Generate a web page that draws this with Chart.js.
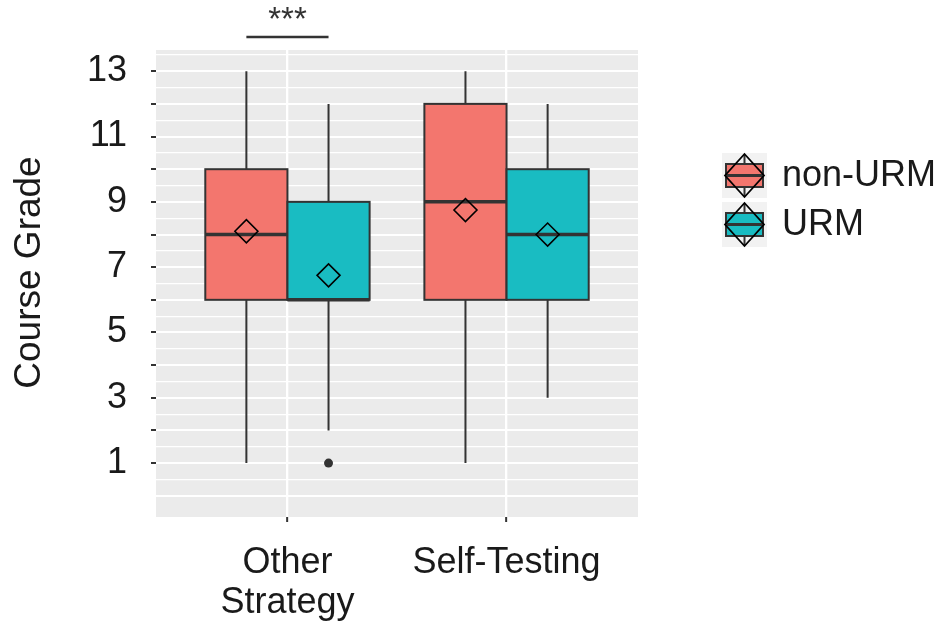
<!DOCTYPE html>
<html>
<head>
<meta charset="utf-8">
<script src="https://cdn.jsdelivr.net/npm/chart.js@4/dist/chart.umd.min.js"></script>
<style>
  html, body { margin: 0; padding: 0; background: #ffffff; }
  #wrap { width: 949px; height: 630px; }
</style>
</head>
<body>
<div id="wrap"><canvas id="c" width="949" height="630"></canvas></div>
<script>
// ---------- DATA ----------
const categories = [['Other', 'Strategy'], 'Self-Testing'];
const groups = ['non-URM', 'URM'];
const yTitle = 'Course Grade';

const nonUrmMin    = [1, 1];
const nonUrmQ1     = [6, 6];
const nonUrmMedian = [8, 9];
const nonUrmQ3     = [10, 12];
const nonUrmMax    = [13, 13];
const nonUrmMean   = [8.1, 8.75];
const nonUrmOutliers = [[], []];

const urmMin    = [2, 3];
const urmQ1     = [6, 6];
const urmMedian = [6, 8];
const urmQ3     = [9, 10];
const urmMax    = [12, 12];
const urmMean   = [6.75, 8.0];
const urmOutliers = [[1], []];

const yTickValues = [1, 2, 3, 4, 5, 6, 7, 8, 9, 10, 11, 12, 13];
const yTickLabels = ['1', '', '3', '', '5', '', '7', '', '9', '', '11', '', '13'];
const yGridValues = [0, 0.5, 1, 1.5, 2, 2.5, 3, 3.5, 4, 4.5, 5, 5.5, 6, 6.5, 7, 7.5, 8, 8.5, 9, 9.5, 10, 10.5, 11, 11.5, 12, 12.5, 13, 13.5];

const sigLabel = '***';
const sigCategory = 0;      // index of category with the bracket
const sigLineY = 14.05;     // value level of bracket line
const sigTextY = 14.7;

// ---------- STYLE ----------
const colors = ['#F3766E', '#19BCC2'];
const dodge = 0.375;       // width of each box in category units
const FONT = "'Liberation Sans', Arial, Helvetica, sans-serif";
const ink = '#333333';

const stats = [
  { min: nonUrmMin, q1: nonUrmQ1, med: nonUrmMedian, q3: nonUrmQ3, max: nonUrmMax, mean: nonUrmMean, out: nonUrmOutliers },
  { min: urmMin, q1: urmQ1, med: urmMedian, q3: urmQ3, max: urmMax, mean: urmMean, out: urmOutliers }
];
const xPos = (c, g) => c + 1 + (g - 0.5) * dodge;

const meanData = [];
const outData = [];
stats.forEach((s, g) => {
  categories.forEach((_, c) => {
    meanData.push({ x: xPos(c, g), y: s.mean[c] });
    s.out[c].forEach(v => outData.push({ x: xPos(c, g), y: v }));
  });
});

const panelBg = {
  id: 'panelBg',
  beforeDraw(chart) {
    const { ctx, chartArea: a } = chart;
    ctx.save();
    ctx.fillStyle = '#EBEBEB';
    ctx.fillRect(a.left, a.top, a.right - a.left, a.bottom - a.top);
    ctx.restore();
  }
};

const boxes = {
  id: 'boxes',
  beforeDatasetsDraw(chart) {
    const { ctx } = chart;
    const xs = chart.scales.x, ys = chart.scales.y;
    ctx.save();
    stats.forEach((s, g) => {
      categories.forEach((_, c) => {
        const xc = xs.getPixelForValue(xPos(c, g));
        const xl = xs.getPixelForValue(xPos(c, g) - dodge / 2);
        const xr = xs.getPixelForValue(xPos(c, g) + dodge / 2);
        const yMin = ys.getPixelForValue(s.min[c]);
        const yQ1 = ys.getPixelForValue(s.q1[c]);
        const yMed = ys.getPixelForValue(s.med[c]);
        const yQ3 = ys.getPixelForValue(s.q3[c]);
        const yMax = ys.getPixelForValue(s.max[c]);
        ctx.strokeStyle = ink;
        ctx.lineWidth = 2;
        ctx.beginPath();
        ctx.moveTo(xc, yMax); ctx.lineTo(xc, yQ3);
        ctx.moveTo(xc, yQ1); ctx.lineTo(xc, yMin);
        ctx.stroke();
        ctx.fillStyle = colors[g];
        ctx.fillRect(xl, yQ3, xr - xl, yQ1 - yQ3);
        ctx.strokeRect(xl, yQ3, xr - xl, yQ1 - yQ3);
        ctx.lineWidth = 3.5;
        ctx.beginPath();
        ctx.moveTo(xl, yMed); ctx.lineTo(xr, yMed);
        ctx.stroke();
      });
    });
    ctx.restore();
  },
  afterDraw(chart) {
    const { ctx, chartArea: a } = chart;
    const xs = chart.scales.x, ys = chart.scales.y;
    ctx.save();
    // y-axis title
    ctx.save();
    ctx.translate(30, (a.top + a.bottom) / 2 - 11);
    ctx.rotate(-Math.PI / 2);
    ctx.fillStyle = '#1a1a1a';
    ctx.font = '37px ' + FONT;
    ctx.textAlign = 'center';
    ctx.textBaseline = 'middle';
    ctx.fillText(yTitle, 0, 0);
    ctx.restore();

    // significance bracket
    const x1 = xs.getPixelForValue(xPos(sigCategory, 0));
    const x2 = xs.getPixelForValue(xPos(sigCategory, 1));
    const yl = ys.getPixelForValue(sigLineY);
    ctx.strokeStyle = ink;
    ctx.lineWidth = 2.5;
    ctx.beginPath();
    ctx.moveTo(x1, yl); ctx.lineTo(x2, yl);
    ctx.stroke();
    ctx.fillStyle = ink;
    ctx.font = '33px ' + FONT;
    ctx.textAlign = 'center';
    ctx.textBaseline = 'middle';
    ctx.fillText(sigLabel, (x1 + x2) / 2, ys.getPixelForValue(sigTextY) + 5);

    // legend
    const kx = 722, ky = 153, ks = 45, gap = 4;
    groups.forEach((name, g) => {
      const top = ky + g * (ks + gap);
      ctx.fillStyle = '#F2F2F2';
      ctx.fillRect(kx, top, ks, ks);
      const cx = kx + ks / 2, cy = top + ks / 2;
      ctx.strokeStyle = ink;
      ctx.lineWidth = 2;
      ctx.beginPath();
      ctx.moveTo(cx, top + 2); ctx.lineTo(cx, top + 10);
      ctx.moveTo(cx, top + ks - 10); ctx.lineTo(cx, top + ks - 2);
      ctx.stroke();
      ctx.fillStyle = colors[g];
      ctx.fillRect(kx + 4, top + 11, ks - 8, ks - 22);
      ctx.strokeRect(kx + 4, top + 11, ks - 8, ks - 22);
      ctx.lineWidth = 3;
      ctx.beginPath();
      ctx.moveTo(kx + 4, cy); ctx.lineTo(kx + ks - 4, cy);
      ctx.stroke();
      ctx.strokeStyle = '#000';
      ctx.lineWidth = 1.8;
      ctx.beginPath();
      ctx.moveTo(cx, top + 1);
      ctx.lineTo(kx + ks - 3, cy);
      ctx.lineTo(cx, top + ks - 1);
      ctx.lineTo(kx + 3, cy);
      ctx.closePath();
      ctx.stroke();
      ctx.fillStyle = '#1a1a1a';
      ctx.font = '36px ' + FONT;
      ctx.textAlign = 'left';
      ctx.textBaseline = 'middle';
      ctx.fillText(name, kx + ks + 15, cy + 1);
    });
    ctx.restore();
  }
};

new Chart(document.getElementById('c'), {
  type: 'scatter',
  data: {
    datasets: [
      {
        label: 'mean',
        data: meanData,
        pointStyle: 'rectRot',
        radius: 11.5,
        hoverRadius: 11.5,
        borderColor: '#000',
        borderWidth: 1.6,
        backgroundColor: 'rgba(0,0,0,0)'
      },
      {
        label: 'outliers',
        data: outData,
        pointStyle: 'circle',
        radius: 4.5,
        borderColor: ink,
        borderWidth: 0,
        backgroundColor: ink
      }
    ]
  },
  options: {
    responsive: false,
    animation: false,
    events: [],
    layout: { padding: { top: 50, right: 311, bottom: 0, left: 0 } },
    plugins: { legend: { display: false }, tooltip: { enabled: false } },
    scales: {
      x: {
        type: 'linear',
        min: 0.4,
        max: 2.6,
        afterBuildTicks(scale) { scale.ticks = categories.map((_, i) => ({ value: i + 1 })); },
        afterFit(scale) { scale.height = 113; },
        border: { display: false },
        grid: { color: '#FFFFFF', lineWidth: 2.3, tickColor: ink, tickLength: 5, tickWidth: 2 },
        ticks: {
          autoSkip: false,
          maxRotation: 0,
          padding: 21,
          color: '#1a1a1a',
          font: { family: FONT, size: 36, lineHeight: 1.11 },
          callback(v) { const i = Math.round(v) - 1; return categories[i]; }
        }
      },
      y: {
        type: 'linear',
        min: -0.65,
        max: 13.65,
        afterBuildTicks(scale) { scale.ticks = yGridValues.map(v => ({ value: v })); },
        afterFit(scale) { scale.width = 156; },
        border: { display: false },
        grid: {
          color: '#FFFFFF',
          lineWidth: ctx => Number.isInteger(ctx.tick.value) ? 2 : 1.2,
          tickColor: ctx => (yTickValues.includes(ctx.tick.value) ? ink : 'rgba(0,0,0,0)'),
          tickLength: 5,
          tickWidth: 2
        },
        ticks: {
          autoSkip: false,
          padding: 24,
          color: '#1a1a1a',
          font: { family: FONT, size: 36 },
          callback(v) { const i = yTickValues.indexOf(v); return i >= 0 ? yTickLabels[i] : ''; }
        }
      }
    }
  },
  plugins: [panelBg, boxes]
});
</script>
</body>
</html>
